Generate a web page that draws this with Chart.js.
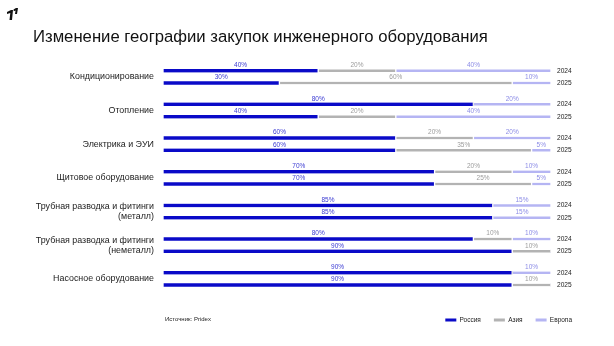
<!DOCTYPE html>
<html><head><meta charset="utf-8">
<script src="https://cdn.jsdelivr.net/npm/chart.js@4.4.1/dist/chart.umd.min.js"></script>
<style>
html,body{margin:0;padding:0;background:#fff;}
#wrap{position:relative;width:614px;height:346px;overflow:hidden;}
#c{position:absolute;left:0;top:0;}
#src{position:absolute;left:165px;top:316px;font:6px 'Liberation Sans',Arial,sans-serif;color:#222;white-space:nowrap;}
</style></head><body>
<div id="wrap"><canvas id="c" width="614" height="346"></canvas><div id="src">Источник: Pridex</div></div>
<script>
// ---- data ----
const categories = [
  'Кондиционирование',
  'Отопление',
  'Электрика и ЭУИ',
  'Щитовое оборудование',
  ['Трубная разводка и фитинги', '(металл)'],
  ['Трубная разводка и фитинги', '(неметалл)'],
  'Насосное оборудование'
];
const years = ['2024', '2025'];
const seriesNames = ['Россия', 'Азия', 'Европа'];
const russia2024 = [40, 80, 60, 70, 85, 80, 90];
const russia2025 = [30, 40, 60, 70, 85, 90, 90];
const asia2024   = [20, 0, 20, 20, 0, 10, 0];
const asia2025   = [60, 20, 35, 25, 0, 10, 10];
const europe2024 = [40, 20, 20, 10, 15, 10, 10];
const europe2025 = [10, 40, 5, 5, 15, 0, 0];
const chartTitle = 'Изменение географии закупок инженерного оборудования';

// ---- layout constants ----
const YEAR_GAP = 0.366;      // offset of the 2025 bar inside a group (group = 1 unit)
const GROUP_PX = 33.67;      // pixels per group
const FIRST_BAR_PX = 70.7;   // pixel centre of first bar
const FONT = "'Liberation Sans', Arial, sans-serif";
Chart.defaults.font.family = FONT;

const colors = ['#0a0ac8', '#b3b3b3', '#b5b5f3'];
const labelColors = ['#3a3ad2', '#9c9c9c', '#8c8ce6'];

function points(a24, a25) {
  const out = [];
  categories.forEach((c, i) => {
    out.push({x: a24[i], y: i});
    out.push({x: a25[i], y: i + YEAR_GAP});
  });
  return out;
}
const seriesData = [
  points(russia2024, russia2025),
  points(asia2024, asia2025),
  points(europe2024, europe2025)
];

const datasets = seriesNames.map((name, k) => ({
  label: name,
  data: seriesData[k],
  backgroundColor: colors[k],
  borderColor: '#ffffff',
  borderWidth: {left: 1, right: 1, top: 0, bottom: 0},
  borderSkipped: false,
  barThickness: k === 0 ? 3.5 : 2.5
}));

const valueLabels = {
  id: 'valueLabels',
  afterDatasetsDraw(chart) {
    const ctx = chart.ctx;
    ctx.save();
    ctx.font = '6.5px ' + FONT;
    ctx.textAlign = 'center';
    ctx.textBaseline = 'middle';
    chart.data.datasets.forEach((ds, k) => {
      const meta = chart.getDatasetMeta(k);
      meta.data.forEach((bar, j) => {
        const v = ds.data[j].x;
        if (!v) return;
        const p = bar.getProps(['x', 'y', 'base'], true);
        ctx.fillStyle = labelColors[k];
        ctx.fillText(v + '%', (p.x + p.base) / 2, p.y - 5.5);
      });
    });
    ctx.restore();
  }
};

const logo = {
  id: 'logo',
  afterDraw(chart) {
    const ctx = chart.ctx;
    ctx.save();
    ctx.fillStyle = '#111';
    ctx.beginPath();
    ctx.moveTo(7, 12); ctx.lineTo(11, 10); ctx.lineTo(13, 10);
    ctx.lineTo(12, 20); ctx.lineTo(9.5, 20); ctx.lineTo(10.3, 13); ctx.lineTo(7, 14);
    ctx.closePath(); ctx.fill();
    ctx.beginPath();
    ctx.moveTo(13.5, 9.5); ctx.lineTo(16, 8); ctx.lineTo(18, 8);
    ctx.lineTo(17, 14); ctx.lineTo(15, 14); ctx.lineTo(15.6, 10.5); ctx.lineTo(13.8, 11.2);
    ctx.closePath(); ctx.fill();
    ctx.restore();
  }
};

const groupTickValues = categories.map((c, i) => i + YEAR_GAP / 2);
const yearTickValues = [];
const yearTickLabels = [];
categories.forEach((c, i) => {
  years.forEach((yr, j) => { yearTickValues.push(i + j * YEAR_GAP); yearTickLabels.push(yr); });
});

const chart = new Chart(document.getElementById('c'), {
  type: 'bar',
  data: {datasets},
  options: {
    indexAxis: 'y',
    responsive: false,
    animation: false,
    devicePixelRatio: 1,
    layout: {padding: {left: 33, right: 29, top: 0, bottom: 12.75}},
    plugins: {
      title: {
        display: true, text: chartTitle, align: 'start', color: '#111',
        font: {size: 16.7, weight: 'normal', family: FONT},
        padding: {top: 27, bottom: 10}
      },
      legend: {
        display: true, position: 'bottom', align: 'end',
        labels: {
          boxWidth: 11, boxHeight: 3, padding: 13, color: '#222',
          font: {size: 6.5, family: FONT},
          generateLabels: (ch) => ch.data.datasets.map((ds, i) => ({
            text: ds.label, fillStyle: ds.backgroundColor, strokeStyle: ds.backgroundColor,
            lineWidth: 0, hidden: false, datasetIndex: i, fontColor: '#222'
          }))
        }
      },
      tooltip: {enabled: false}
    },
    scales: {
      x: {display: false, stacked: true, min: 0, max: 100},
      y: {
        type: 'linear', position: 'left', stacked: true, reverse: true, offset: false,
        min: -0.4, max: 6.9,
        grid: {display: false, drawTicks: false}, border: {display: false},
        afterFit: (s) => { s.width = 130; },
        afterBuildTicks: (s) => { s.ticks = groupTickValues.map(v => ({value: v})); },
        ticks: {
          autoSkip: false, padding: 9, color: '#222', font: {size: 8.9, lineHeight: 1.1},
          callback: (v, i) => categories[i]
        }
      },
      y2: {
        type: 'linear', position: 'right', reverse: true, offset: false,
        min: -0.4, max: 6.9,
        grid: {display: false, drawTicks: false}, border: {display: false},
        afterFit: (s) => { s.width = 34; },
        afterBuildTicks: (s) => { s.ticks = yearTickValues.map(v => ({value: v})); },
        ticks: {
          autoSkip: false, padding: 6, color: '#222', font: {size: 6.6},
          callback: (v, i) => yearTickLabels[i]
        }
      }
    }
  },
  plugins: [valueLabels, logo]
});

// align the index axes with the chart area
const ca = chart.chartArea;
const yMin = (ca.top - FIRST_BAR_PX) / GROUP_PX;
const yMax = (ca.bottom - FIRST_BAR_PX) / GROUP_PX;
['y', 'y2'].forEach(id => { chart.options.scales[id].min = yMin; chart.options.scales[id].max = yMax; });
chart.update('none');
</script>
</body></html>
